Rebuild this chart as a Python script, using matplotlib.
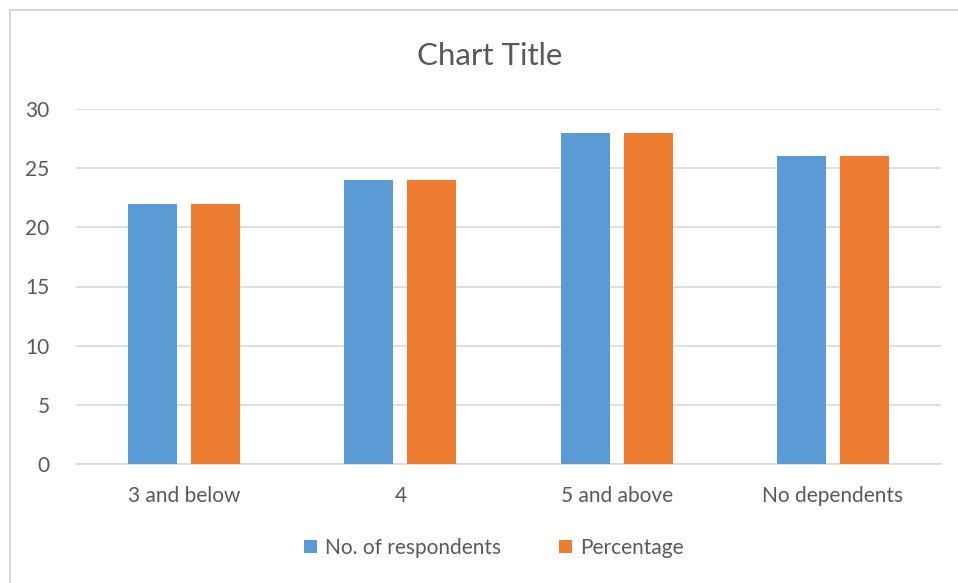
import matplotlib.pyplot as plt
import numpy as np
from matplotlib.patches import Rectangle

categorias = ["3 and below", "4", "5 and above", "No dependents"]
respondentes = [22, 24, 28, 26]
porcentaje = [22, 24, 28, 26]
series = ["No. of respondents", "Percentage"]
yticks = [0, 5, 10, 15, 20, 25, 30]

AZUL = "#5B9BD5"
NARANJA = "#ED7D31"
GRIS_TEXTO = "#595959"
GRIS_LINEA = "#D9D9D9"

plt.rcParams["font.family"] = ["Lato", "DejaVu Sans"]

W, H = 958, 583
fig = plt.figure(figsize=(W / 100, H / 100), dpi=100)

# borde del area del grafico
fig.patches.append(Rectangle((10 / W, -0.01), 1.0, 1 - 10 / H + 0.01,
                             transform=fig.transFigure, fill=False,
                             edgecolor=GRIS_LINEA, linewidth=1.5))

ax = fig.add_axes([76 / W, 1 - 464 / H, (941 - 76) / W, (464 - 109) / H])

x = np.arange(len(categorias))
ancho = 0.227
desp = 0.146
ax.bar(x - desp, respondentes, ancho, color=AZUL, label=series[0], zorder=3)
ax.bar(x + desp, porcentaje, ancho, color=NARANJA, label=series[1], zorder=3)

ax.set_xlim(-0.5, len(categorias) - 0.5)
ax.set_ylim(0, 30)
ax.set_yticks(yticks)
ax.set_xticks(x)
ax.set_xticklabels(categorias)
ax.grid(axis="y", color=GRIS_LINEA, linewidth=1.2, zorder=0)
for s in ["top", "right", "left"]:
    ax.spines[s].set_visible(False)
ax.spines["bottom"].set_color(GRIS_LINEA)
ax.spines["bottom"].set_linewidth(1.2)
ax.tick_params(length=0, labelsize=15, labelcolor=GRIS_TEXTO)
ax.tick_params(axis="y", pad=19)
ax.tick_params(axis="x", pad=16)

fig.text(490 / W, 1 - 56 / H, "Chart Title", ha="center", va="center",
         fontsize=22.5, color=GRIS_TEXTO)

fig.legend(loc="center", bbox_to_anchor=(494 / W, 1 - 548 / H), ncol=2,
           frameon=False, fontsize=15, labelcolor=GRIS_TEXTO,
           handlelength=0.6, handleheight=0.6, handletextpad=0.4,
           columnspacing=2.8)

fig.savefig("out.png", dpi=100)
